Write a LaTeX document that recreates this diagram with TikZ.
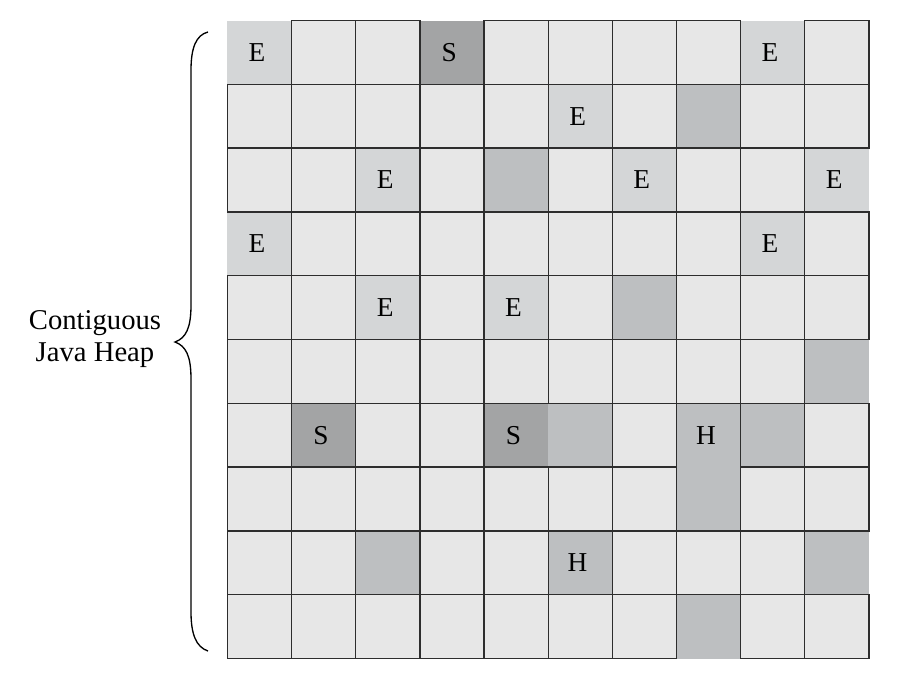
\documentclass[tikz,border=0pt]{standalone}
\usepackage{fontspec}
\setmainfont{Liberation Serif}
\usepackage{xcolor}

\begin{document}
\begin{tikzpicture}[x=0.75pt,y=-0.75pt]
  \definecolor{cellfree}{RGB}{231,231,231}
  \definecolor{celleden}{RGB}{212,214,215}
  \definecolor{cellold}{RGB}{189,191,193}
  \definecolor{cellsurv}{RGB}{163,164,165}
  \definecolor{cellline}{RGB}{45,45,45}
  \tikzset{regionlab/.style={font=\fontsize{20.5}{20.5}\selectfont,inner sep=0pt,xshift=-2pt},
    gridline/.style={draw=cellline,line width=1pt}}
  \useasboundingbox (0,0) rectangle (902,676);
  % heap regions, one unit = one region
  \begin{scope}[x=48.11pt,y=-47.85pt,xshift=170.6pt,yshift=-15.4pt]
    \fill[cellfree] (0,0) rectangle (10,10);
    \foreach \c/\r in {0/0,8/0,5/1,2/2,6/2,9/2,0/3,8/3,2/4,4/4}
      \fill[celleden] (\c,\r) rectangle ++(1,1);
    \foreach \c/\r in {7/1,4/2,6/4,9/5,5/6,8/6,7/6,7/7,2/8,5/8,9/8,7/9}
      \fill[cellold] (\c,\r) rectangle ++(1,1);
    \foreach \c/\r in {3/0,1/6,4/6}
      \fill[cellsurv] (\c,\r) rectangle ++(1,1);
    % borders only round the free regions
    \foreach \r/\cols in {0/{1,2,4,5,6,7,9},1/{0,1,2,3,4,6,8,9},2/{0,1,3,5,7,8},
        3/{1,2,3,4,5,6,7,9},4/{0,1,3,5,7,8,9},5/{0,1,2,3,4,5,6,7,8},
        6/{0,2,3,6,9},7/{0,1,2,3,4,5,6,8,9},8/{0,1,3,4,6,7,8},
        9/{0,1,2,3,4,5,6,8,9}}
      \foreach \c in \cols
        \draw[gridline] (\c,\r) rectangle ++(1,1);
    \draw[gridline] (8,6) -- (8,7);
    \foreach \c/\r in {0/0,8/0,5/1,2/2,6/2,9/2,0/3,8/3,2/4,4/4}
      \node[regionlab] (eden-\c-\r) at (\c+0.5,\r+0.5) {E};
    \foreach \c/\r in {3/0,1/6,4/6}
      \node[regionlab] (surv-\c-\r) at (\c+0.5,\r+0.5) {S};
    \foreach \c/\r in {7/6,5/8}
      \node[regionlab] (hum-\c-\r) at (\c+0.5,\r+0.5) {H};
  \end{scope}
  % brace
  \draw[line width=1pt] (208,32) .. controls (196,35) and (191,48) .. (191,70)
    -- (191,305) .. controls (191,328) and (186,338) .. (175,342)
    .. controls (186,346) and (191,356) .. (191,379)
    -- (191,612) .. controls (191,634) and (196,647) .. (208,651);
  \node[font=\fontsize{21.5}{24}\selectfont,align=center,inner sep=0pt] (heap) at (95,339)
    {Contiguous\\Java Heap};
\end{tikzpicture}
\end{document}
